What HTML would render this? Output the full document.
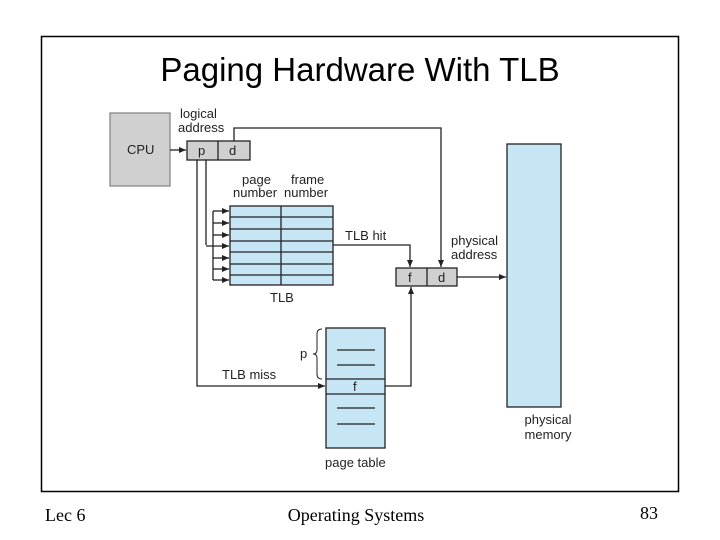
<!DOCTYPE html>
<html><head><style>
html,body{margin:0;padding:0;background:#fff;width:720px;height:540px;overflow:hidden}
</style></head><body>
<svg width="720" height="540" xmlns="http://www.w3.org/2000/svg" font-family="Liberation Sans, sans-serif">
<defs><marker id="a" markerWidth="8" markerHeight="8" refX="7" refY="4" orient="auto" markerUnits="userSpaceOnUse"><path d="M0,1 L7,4 L0,7 z" fill="#222"/></marker></defs>
<rect x="41.5" y="36.5" width="637" height="455" fill="none" stroke="#000" stroke-width="1.5"/>
<text x="360" y="81" font-size="33" text-anchor="middle">Paging Hardware With TLB</text>
<g stroke="#222" stroke-width="1.3" fill="none">
<rect x="110" y="113" width="60" height="73" fill="#d0d0d0" stroke="#888"/>
<rect x="187" y="141" width="63" height="19" fill="#d0d0d0"/>
<line x1="218" y1="141" x2="218" y2="160"/>
<line x1="170" y1="150" x2="186" y2="150" marker-end="url(#a)"/>
<rect x="230" y="206" width="103" height="79" fill="#c6e6f6"/>
<line x1="281" y1="206" x2="281" y2="285"/>
<line x1="230" y1="217" x2="333" y2="217"/><line x1="230" y1="229" x2="333" y2="229"/>
<line x1="230" y1="241" x2="333" y2="241"/><line x1="230" y1="252" x2="333" y2="252"/>
<line x1="230" y1="264" x2="333" y2="264"/><line x1="230" y1="275" x2="333" y2="275"/>
<line x1="206" y1="160" x2="206" y2="245"/>
<line x1="213" y1="211" x2="213" y2="280"/>
<line x1="213" y1="211" x2="229" y2="211" marker-end="url(#a)"/>
<line x1="213" y1="223" x2="229" y2="223" marker-end="url(#a)"/>
<line x1="213" y1="235" x2="229" y2="235" marker-end="url(#a)"/>
<line x1="206" y1="246" x2="229" y2="246" marker-end="url(#a)"/>
<line x1="213" y1="258" x2="229" y2="258" marker-end="url(#a)"/>
<line x1="213" y1="269" x2="229" y2="269" marker-end="url(#a)"/>
<line x1="213" y1="280" x2="229" y2="280" marker-end="url(#a)"/>
<polyline points="234,141 234,128 441,128 441,267" marker-end="url(#a)"/>
<polyline points="333,245 410,245 410,267" marker-end="url(#a)"/>
<rect x="396" y="268" width="61" height="18" fill="#d0d0d0"/>
<line x1="427" y1="268" x2="427" y2="286"/>
<line x1="457" y1="277" x2="506" y2="277" marker-end="url(#a)"/>
<polyline points="197,160 197,386 325,386" marker-end="url(#a)"/>
<rect x="326" y="328" width="59" height="120" fill="#c6e6f6"/>
<line x1="326" y1="379" x2="385" y2="379"/><line x1="326" y1="394" x2="385" y2="394"/>
<line x1="337" y1="350" x2="375" y2="350"/><line x1="337" y1="365" x2="375" y2="365"/>
<line x1="337" y1="408" x2="375" y2="408"/><line x1="337" y1="424" x2="375" y2="424"/>
<polyline points="385,386 411,386 411,287" marker-end="url(#a)"/>
<path d="M322,329 Q317,329 317,334 L317,350 Q317,354 313,354 Q317,354 317,358 L317,374 Q317,379 322,379" stroke-width="1"/>
<rect x="507" y="144" width="54" height="263" fill="#c6e6f6"/>
</g>
<g font-size="13" fill="#222">
<text x="127" y="154">CPU</text>
<text x="198" y="155">p</text><text x="229" y="155">d</text>
<text x="180" y="118">logical</text><text x="178" y="132">address</text>
<text x="242" y="184">page</text><text x="233" y="197">number</text>
<text x="291" y="184">frame</text><text x="284" y="197">number</text>
<text x="345" y="240">TLB hit</text>
<text x="451" y="245">physical</text><text x="451" y="259">address</text>
<text x="408" y="282">f</text><text x="438" y="282">d</text>
<text x="270" y="302">TLB</text>
<text x="300" y="358">p</text>
<text x="222" y="379">TLB miss</text>
<text x="353" y="391">f</text>
<text x="325" y="467">page table</text>
<text x="548" y="424" text-anchor="middle">physical</text><text x="548" y="439" text-anchor="middle">memory</text>
</g>
<g font-family="Liberation Serif, serif" font-size="18" fill="#000">
<text x="45" y="521">Lec 6</text>
<text x="356" y="521" text-anchor="middle">Operating Systems</text>
<text x="640" y="519">83</text>
</g>
</svg>
</body></html>
